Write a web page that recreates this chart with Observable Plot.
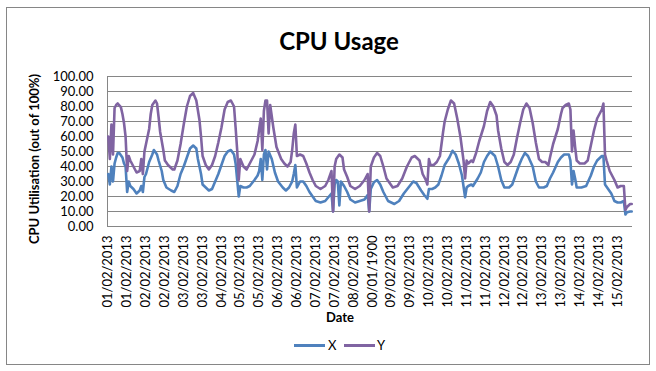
<!DOCTYPE html>
<html><head><meta charset="utf-8">
<script src="https://cdn.jsdelivr.net/npm/d3@7"></script>
<script src="https://cdn.jsdelivr.net/npm/@observablehq/plot@0.6"></script>
<style>
body{margin:0;background:#fff;font-family:Lato,"Open Sans",sans-serif;color:#000;}
#chart{position:relative;width:656px;height:371px;overflow:hidden;background:#fff;}
.border{position:absolute;left:6px;top:7px;width:644px;height:358px;border:1px solid #868686;box-sizing:border-box;}
.title{position:absolute;left:0;width:678px;top:26px;text-align:center;font-weight:bold;font-size:24px;line-height:30px;}
.ytitle{position:absolute;left:34px;top:159px;transform:translate(-50%,-50%) rotate(-90deg);white-space:nowrap;font-weight:bold;font-size:13px;}
.xtitle{position:absolute;left:340px;top:317px;transform:translate(-50%,-50%);font-weight:bold;font-size:13px;}
#plot{position:absolute;left:0;top:60px;}
.legline{position:absolute;height:3px;}
.legtext{position:absolute;font-size:13px;line-height:16px;}
</style>
</head><body>
<div id="chart">
  <div class="border"></div>
  <div class="title">CPU Usage</div>
  <div class="ytitle">CPU Utilisation (out of 100%)</div>
  <div class="xtitle">Date</div>
  <div id="plot"></div>
  <div id="legend"></div>
</div>
<script>
const seriesNames = ["X", "Y"];
const seriesColors = ["#4F81BD", "#8064A2"];
const dateLabels = ["01/02/2013","01/02/2013","02/02/2013","02/02/2013","03/02/2013","03/02/2013","04/02/2013","05/02/2013","05/02/2013","06/02/2013","06/02/2013","07/02/2013","07/02/2013","08/02/2013","00/01/1900","09/02/2013","09/02/2013","10/02/2013","10/02/2013","11/02/2013","11/02/2013","12/02/2013","12/02/2013","13/02/2013","13/02/2013","14/02/2013","14/02/2013","15/02/2013"];
const labelStep = 12;
const pointCount = 334;
const yTicks = [0,10,20,30,40,50,60,70,80,90,100];

const hoursX = [0,1,2,3,4,5,6,7,9,10,11,12,13,14,16,18,20,21,22,23,24,26,28,29,31,32,34,35,37,40,42,44,46,48,50,52,54,56,57,59,60,62,64,66,68,70,72,74,76,78,80,81,82,83,84,86,88,90,93,95,96,97,98,99,100,101,102,104,106,108,111,113,115,117,118,119,120,122,124,126,128,130,132,135,138,140,142,143,144,145,146,147,148,150,152,154,157,160,163,165,166,167,169,171,173,175,178,182,185,188,191,194,196,199,201,203,204,206,208,210,212,214,217,219,221,223,225,227,228,229,231,232,235,237,239,241,243,246,248,250,252,255,257,259,261,263,265,267,270,272,274,277,279,281,283,286,288,290,293,294,295,296,297,298,301,304,307,309,311,314,315,316,318,320,322,324,326,328,329,330,332,333];
const valuesX = [35,28,40,30,42,46,49,49,46,42,40,23,30,27,25,22,24,27,23,33,35,43,48,51,48,44,37,31,26,24,23,27,35,40,46,52,54,52,45,35,28,26,24,25,30,35,41,47,50,51,48,42,31,20,27,26,26,27,31,34,37,45,31,48,51,38,50,45,36,30,26,24,26,30,35,41,26,30,30,27,23,20,17,16,17,19.5,22,10,28,31,30,14,30,27,23,18,16,17,18,21,10,25,29.5,31,28,23,17,15,17,22,26,30,29,24,21,18.5,25,25,26,28,34,41,46,50.5,48,42,34,19.5,26,27,28,27,32,36,43,47,50,47,40,31,26,26,28,34,40,45,49,47,40,30,26,26,27,32,36,43,46,48,48,44,28,37,32,26,26,27,34,40,44,47,47,28,25,22,17,16,16,17,8,9.5,10,10];

const hoursY = [0,1,2,3,4,5,6,8,9,10,11,12,13,14,16,18,20,21,22,23,24,26,27,28,30,31,32,33,35,36,38,41,42,44,46,48,50,52,54,56,58,59,60,62,64,66,68,70,72,74,76,78,80,81,82,83,84,86,88,90,93,95,96,97,98,99,100,101,102,103,105,107,110,112,114,116,117,118,119,120,122,124,126,128,130,132,135,138,140,142,143,144,145,147,149,150,152,154,157,160,163,165,166,167,169,171,173,175,177,181,184,187,190,193,195,198,200,202,203,204,205,207,209,211,213,214,216,218,220,222,224,226,227,228,229,231,232,234,236,239,241,243,245,247,248,250,252,254,256,258,260,262,264,266,268,270,272,274,276,278,280,281,283,286,288,289,291,293,294,295,296,297,298,300,303,305,307,309,311,314,315,316,317,319,322,324,326,328,329,330,332,333];
const valuesY = [60,45,68,48,79,81,82,79.6,75,69,60,37,47,44,40,36,37,45,35,50,55,65,75,81,84,82,73,63,51,44,41,38,38,44,55,68,80,87,89,84,71,60,47,41,38,41,47,56,66,78,83,84,80,66,51,31,45,40,38,42,48,57,65,72,51,77,84,84,62,81,66,53,45,42,40,43,51,62,68,47,48,47,42,36,31,27,25,27,31,37,10,40,45,48,46,38,33,27,25,27,31,35,10,40,46,49,47,40,32,26,27,32,40,46,47,44,35,31,28,45,41,41,43,47,63,70,78,84,82,72,60,44,32,44,42,44,43,49,57,67,77,83,80,74,64,52,43,41,43,48,59,69,78,82,79,69,56,45,43,43,41,46,55,65,75,79,81,82,78,50,64,53,44,42,42,44,54,64,72,78,82,48,44,37,31,26,27,27,11,13,15,15];

const rows = [
  ...hoursX.map((h, i) => ({series: seriesNames[0], hour: h, value: valuesX[i]})),
  ...hoursY.map((h, i) => ({series: seriesNames[1], hour: h, value: valuesY[i]}))
];
const tickHours = dateLabels.map((d, i) => i * labelStep);

const chart = Plot.plot({
  width: 656,
  height: 270,
  marginLeft: 107,
  marginRight: 24,
  marginTop: 16,
  marginBottom: 104,
  style: {fontFamily: "Lato, 'Open Sans', sans-serif", fontSize: "13px", color: "#000", background: "transparent"},
  x: {domain: [-0.5, pointCount - 0.5]},
  y: {domain: [0, 100]},
  color: {domain: seriesNames, range: seriesColors},
  marks: [
    Plot.gridY(yTicks, {stroke: "#868686", strokeOpacity: 1, strokeWidth: 1}),
    Plot.frame({anchor: "left", stroke: "#868686", strokeOpacity: 1}),
    Plot.axisY(yTicks, {tickSize: 0, tickPadding: 14, tickFormat: d3.format(".2f"), label: null}),
    Plot.axisX(tickHours, {tickSize: 0, tickPadding: 9, tickRotate: -90, tickFormat: (d) => dateLabels[d / labelStep], label: null}),
    Plot.line(rows, {x: "hour", y: "value", z: "series", stroke: "series", strokeWidth: 2.6, strokeLinejoin: "round", strokeLinecap: "round"})
  ]
});
document.getElementById("plot").appendChild(chart);

const legend = document.getElementById("legend");
const legPos = [{line: 294, text: 328}, {line: 344, text: 377}];
seriesNames.forEach((name, i) => {
  const l = document.createElement("div");
  l.className = "legline";
  l.style.left = legPos[i].line + "px";
  l.style.top = "344px";
  l.style.width = "31px";
  l.style.background = seriesColors[i];
  legend.appendChild(l);
  const t = document.createElement("div");
  t.className = "legtext";
  t.style.left = legPos[i].text + "px";
  t.style.top = "337px";
  t.textContent = name;
  legend.appendChild(t);
});
</script>
</body></html>
